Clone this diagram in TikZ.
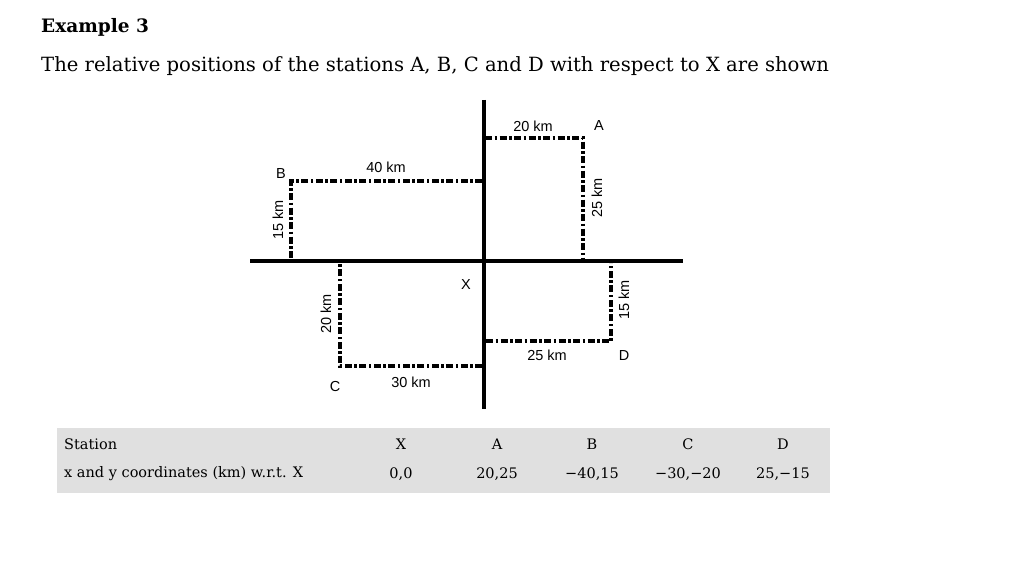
\documentclass[tikz,border=0pt]{standalone}
\usepackage{fontspec}
\setmainfont{DejaVu Serif}
\newfontfamily\lsans{Liberation Sans}
\begin{document}
\begin{tikzpicture}[x=1pt,y=-1pt,
  axis/.style={line width=4pt},
  dd/.style={line width=3.5pt,dash pattern=on 7pt off 2.5pt on 2.5pt off 2.5pt},
  lab/.style={font=\lsans\fontsize{14.5}{16}\selectfont,inner sep=0pt},
  tab/.style={font=\fontsize{14.5}{17}\selectfont,inner sep=0pt}]
\useasboundingbox (0,0) rectangle (1024,575);
\node[anchor=west,inner sep=0pt,font=\bfseries\fontsize{18.5}{22}\selectfont] (title) at (41,27) {Example 3};
\node[anchor=west,inner sep=0pt,font=\fontsize{19.6}{23}\selectfont] (sub) at (41,66) {The relative positions of the stations A, B, C and D with respect to X are shown};
% axes
\coordinate (hl) at (250,261); \coordinate (hr) at (683,261);
\coordinate (vt) at (484,100); \coordinate (vb) at (484,409);
\draw[axis] (hl) -- (hr);
\draw[axis] (vt) -- (vb);
% corners
\coordinate (A) at (583,138); \coordinate (Ay) at (485,138); \coordinate (Ax) at (583,259);
\coordinate (B) at (291,181); \coordinate (By) at (482,181); \coordinate (Bx) at (291,259);
\coordinate (C) at (340,366); \coordinate (Cy) at (482,366); \coordinate (Cx) at (340,263);
\coordinate (D) at (611,341); \coordinate (Dy) at (486,341); \coordinate (Dx) at (611,263);
\draw[dd] (Ay) -- (A) -- (Ax);
\draw[dd] (By) -- (B) -- (Bx);
\draw[dd] (Cy) -- (C) -- (Cx);
\draw[dd] (Dy) -- (D) -- (Dx);
% labels
\node[lab] (l1) at (533,126) {20 km};
\node[lab] (nA) at (599,126) {A};
\node[lab] (l2) at (386,167) {40 km};
\node[lab] (nB) at (281,174) {B};
\node[lab,rotate=90] (l3) at (278,220) {15 km};
\node[lab,rotate=90] (l4) at (597,198) {25 km};
\node[lab] (nX) at (466,285) {X};
\node[lab,rotate=90] (l5) at (326,314) {20 km};
\node[lab,rotate=90] (l6) at (624,300) {15 km};
\node[lab] (l7) at (547,355) {25 km};
\node[lab] (nD) at (624,356) {D};
\node[lab] (nC) at (335,387) {C};
\node[lab] (l8) at (411,382) {30 km};
% table
\fill[black!12] (57,428) rectangle (830,493);
\node[tab,anchor=west] (t1) at (64,444) {Station};
\node[tab,anchor=west] (t2) at (64,474) {x and y coordinates (km) w.r.t. X};
\node[tab] (c1) at (401,444) {X};
\node[tab] (c2) at (497,444) {A};
\node[tab] (c3) at (592,444) {B};
\node[tab] (c4) at (688,444) {C};
\node[tab] (c5) at (783,444) {D};
\node[tab] (d1) at (401,474) {0,0};
\node[tab] (d2) at (497,474) {20,25};
\node[tab] (d3) at (592,474) {−40,15};
\node[tab] (d4) at (688,474) {−30,−20};
\node[tab] (d5) at (783,474) {25,−15};
\end{tikzpicture}
\end{document}
